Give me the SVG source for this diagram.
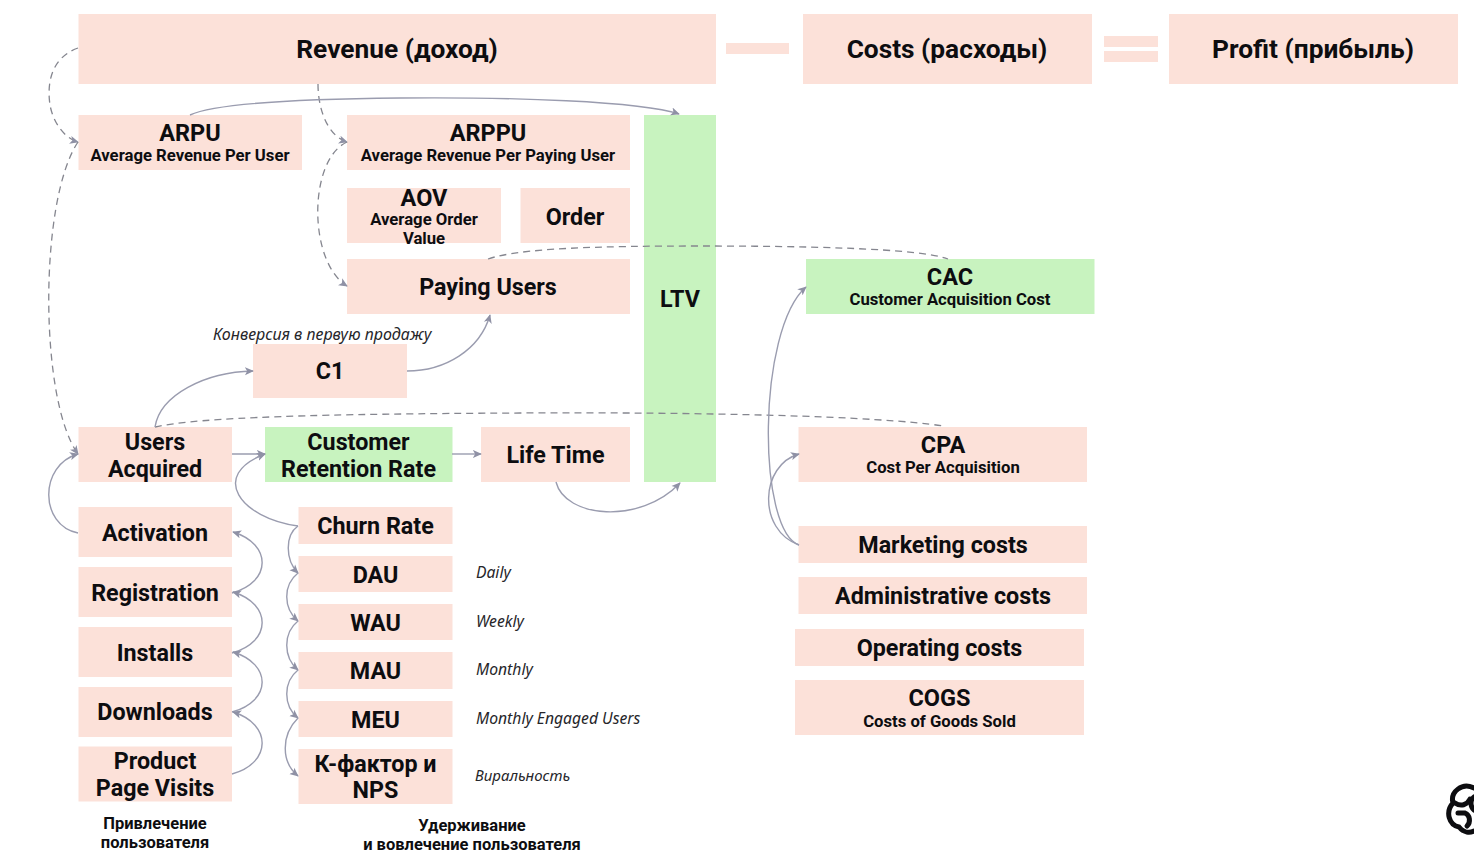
<svg xmlns="http://www.w3.org/2000/svg" width="1474" height="860" viewBox="0 0 1474 860">
<style>
text{font-family:Roboto,"Noto Sans","Liberation Sans",sans-serif;fill:#0d0d10;text-anchor:middle;font-weight:700}
.p{fill:#fce1d9}.g{fill:#c8f3bf}.bar{fill:#fce1d9}
.t{font-size:23.300px}.h{font-size:23.500px}.s{font-size:16.700px}.xl{font-size:26.300px}
.i{font-family:"Noto Sans",sans-serif;font-size:15.700px;font-style:italic;font-weight:400;text-anchor:start;fill:#26262a}
.c{font-size:16.500px}
.l{fill:none;stroke:#9a9caf;stroke-width:1.4}
.d{fill:none;stroke:#85868f;stroke-width:1.3;stroke-dasharray:7 5}
</style>
<defs>
<marker id="a" viewBox="0 0 10 10" refX="9" refY="5" markerWidth="9" markerHeight="9" markerUnits="userSpaceOnUse" orient="auto"><path d="M0 0.5L10 5L0 9.500L2.500 5Z" fill="#8f91a5"/></marker>
</defs>
<g id="revenue"><rect class="p" x="78.500" y="14" width="637.500" height="70"/><text class="xl" x="397" y="58">Revenue (доход)</text></g>
<g id="minus"><rect class="bar" x="726" y="43" width="63" height="11"/></g>
<g id="costs"><rect class="p" x="803" y="14" width="289" height="70"/><text class="xl" x="947" y="58">Costs (расходы)</text></g>
<g id="equals"><rect class="bar" x="1104" y="36" width="54" height="11"/><rect class="bar" x="1104" y="51" width="54" height="11"/></g>
<g id="profit"><rect class="p" x="1169" y="14" width="289" height="70"/><text class="xl" x="1313" y="58">Profit (прибыль)</text></g>
<g id="arpu"><rect class="p" x="78.500" y="115" width="223.500" height="55"/><text class="h" x="190" y="141">ARPU</text><text class="s" x="190" y="161">Average Revenue Per User</text></g>
<g id="arppu"><rect class="p" x="347" y="115" width="283" height="55"/><text class="h" x="488" y="141">ARPPU</text><text class="s" x="488" y="161">Average Revenue Per Paying User</text></g>
<g id="aov"><rect class="p" x="347" y="188" width="154" height="55"/><text class="h" x="424" y="206">AOV</text><text class="s" x="424" y="225">Average Order</text><text class="s" x="424" y="244">Value</text></g>
<g id="order"><rect class="p" x="520.500" y="188" width="109.500" height="55"/><text class="t" x="575" y="225">Order</text></g>
<g id="paying-users"><rect class="p" x="347" y="259" width="283" height="55"/><text class="t" x="488" y="295">Paying Users</text></g>
<g id="ltv"><rect class="g" x="644" y="115" width="72" height="367"/><text class="t" x="680" y="307">LTV</text></g>
<g id="cac"><rect class="g" x="806" y="259" width="288.500" height="55"/><text class="h" x="950" y="285">CAC</text><text class="s" x="950" y="305">Customer Acquisition Cost</text></g>
<g id="c1"><rect class="p" x="253" y="344" width="154" height="54"/><text class="t" x="330" y="379">C1</text></g>
<g id="users-acquired"><rect class="p" x="78.500" y="427" width="153.500" height="55"/><text class="t" x="155" y="450">Users</text><text class="t" x="155" y="477">Acquired</text></g>
<g id="retention"><rect class="g" x="265" y="427" width="187.500" height="55"/><text class="t" x="358.500" y="450">Customer</text><text class="t" x="358.500" y="477">Retention Rate</text></g>
<g id="life-time"><rect class="p" x="481" y="427" width="149" height="55"/><text class="t" x="555.500" y="463">Life Time</text></g>
<g id="cpa"><rect class="p" x="798.500" y="427" width="288.500" height="55"/><text class="h" x="943" y="453">CPA</text><text class="s" x="943" y="473">Cost Per Acquisition</text></g>
<g id="activation"><rect class="p" x="78.500" y="507" width="153.500" height="50"/><text class="t" x="155" y="541">Activation</text></g>
<g id="registration"><rect class="p" x="78.500" y="567" width="153.500" height="50"/><text class="t" x="155" y="601">Registration</text></g>
<g id="installs"><rect class="p" x="78.500" y="627" width="153.500" height="50"/><text class="t" x="155" y="661">Installs</text></g>
<g id="downloads"><rect class="p" x="78.500" y="687" width="153.500" height="50"/><text class="t" x="155" y="720">Downloads</text></g>
<g id="product-page-visits"><rect class="p" x="78.500" y="746.500" width="153.500" height="55"/><text class="t" x="155" y="769">Product</text><text class="t" x="155" y="796">Page Visits</text></g>
<g id="churn"><rect class="p" x="298.500" y="507" width="154" height="37"/><text class="t" x="375.500" y="534">Churn Rate</text></g>
<g id="dau"><rect class="p" x="298.500" y="556" width="154" height="36"/><text class="t" x="375.500" y="583">DAU</text></g>
<g id="wau"><rect class="p" x="298.500" y="604" width="154" height="36"/><text class="t" x="375.500" y="631">WAU</text></g>
<g id="mau"><rect class="p" x="298.500" y="652" width="154" height="37"/><text class="t" x="375.500" y="679">MAU</text></g>
<g id="meu"><rect class="p" x="298.500" y="701" width="154" height="36"/><text class="t" x="375.500" y="728">MEU</text></g>
<g id="kfactor"><rect class="p" x="298.500" y="749" width="154" height="55"/><text class="t" x="375.500" y="772">К-фактор и</text><text class="t" x="375.500" y="798">NPS</text></g>
<g id="marketing"><rect class="p" x="798.500" y="526" width="288.500" height="37"/><text class="t" x="943" y="553">Marketing costs</text></g>
<g id="admin"><rect class="p" x="798.500" y="577" width="288.500" height="37"/><text class="t" x="943" y="604">Administrative costs</text></g>
<g id="operating"><rect class="p" x="795" y="629" width="289" height="37"/><text class="t" x="939.500" y="656">Operating costs</text></g>
<g id="cogs"><rect class="p" x="795" y="680" width="289" height="55"/><text class="h" x="939.500" y="706">COGS</text><text class="s" x="939.500" y="727">Costs of Goods Sold</text></g>
<g id="labels">
<text class="i" x="213" y="340" style="font-size:16px">Конверсия в первую продажу</text>
<text class="i" x="476" y="578">Daily</text>
<text class="i" x="476" y="627">Weekly</text>
<text class="i" x="476" y="675">Monthly</text>
<text class="i" x="476" y="724">Monthly Engaged Users</text>
<text class="i" x="475" y="781" style="font-size:15px">Виральность</text>
<text class="c" x="155" y="829">Привлечение</text>
<text class="c" x="155" y="848">пользователя</text>
<text class="c" x="472" y="831">Удерживание</text>
<text class="c" x="472" y="850">и вовлечение пользователя</text>
</g>
<g id="connectors">
<path class="d" marker-end="url(#a)" d="M78 48C50 58 47 85 50 105C53 122 64 138 78 142"/>
<path class="d" marker-end="url(#a)" d="M318 84C318 110 328 136 347 142"/>
<path class="d" marker-end="url(#a)" d="M347 142C308 160 308 262 347 286"/>
<path class="d" marker-end="url(#a)" d="M78 142C39 200 39 400 78 454"/>
<path class="l" marker-end="url(#a)" d="M190 115C215 103 300 99 400 98C510 97 640 101 679 114"/>
<path class="d" d="M488 259C520 248 600 246 700 246C800 246 920 248 948 259"/>
<path class="d" d="M155 427C200 417 320 414 520 413C700 412 880 416 943 426"/>
<path class="l" marker-end="url(#a)" d="M155 427C160 395 205 372 253 371"/>
<path class="l" marker-end="url(#a)" d="M407 371C445 371 480 350 490 315"/>
<path class="l" marker-end="url(#a)" d="M78 533C39 525 39 465 78 454"/>
<path class="l" marker-end="url(#a)" d="M232 454H265"/>
<path class="l" marker-end="url(#a)" d="M452 454H481"/>
<path class="l" marker-end="url(#a)" d="M298 526C240 518 209 475 265 454"/>
<path class="l" marker-end="url(#a)" d="M556 482C565 518 640 525 680 483"/>
<path class="l" marker-end="url(#a)" d="M232 593C272 582 272 544 233 532"/>
<path class="l" marker-end="url(#a)" d="M232 653C272 642 272 604 233 592"/>
<path class="l" marker-end="url(#a)" d="M232 712C272 701 272 664 233 652"/>
<path class="l" marker-end="url(#a)" d="M232 774C272 763 272 724 233 712"/>
<path class="l" marker-end="url(#a)" d="M298 526C285 535 285 560 298 573"/>
<path class="l" marker-end="url(#a)" d="M298 573C283 585 283 608 298 621"/>
<path class="l" marker-end="url(#a)" d="M298 621C283 633 283 657 298 670"/>
<path class="l" marker-end="url(#a)" d="M298 670C283 682 283 706 298 718"/>
<path class="l" marker-end="url(#a)" d="M298 718C281 735 281 762 298 776"/>
<path class="l" marker-end="url(#a)" d="M799 545C757 530 757 330 806 287"/>
<path class="l" marker-end="url(#a)" d="M799 545C757 530 760 465 799 454"/>
</g>
<g id="logo" fill="none" stroke="#0d0d10" stroke-width="5" stroke-linecap="round">
<path d="M1474 788C1462 782 1450 792 1453 803C1445 812 1449 825 1459 827C1464 833 1470 833 1474 831"/>
<path d="M1455 803C1461 807 1467 805 1470 799"/>
<path d="M1458 813L1465 813C1470 815 1471 822 1467 826"/>
<path d="M1474 797C1470 800 1470 806 1474 810"/>
</g>
</svg>
